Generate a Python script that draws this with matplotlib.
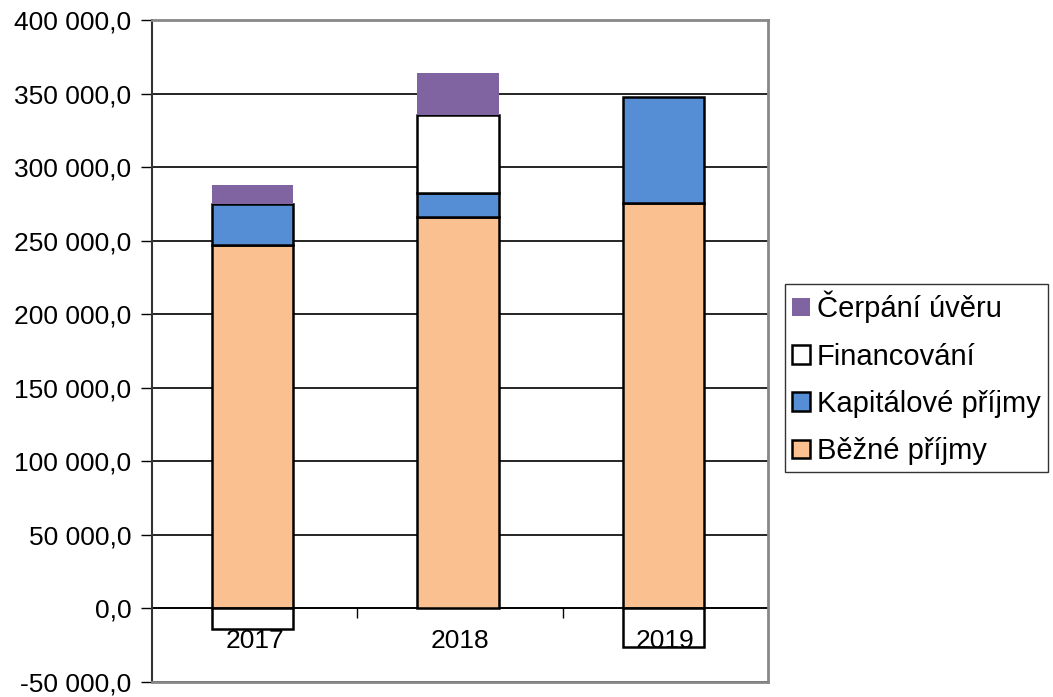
import matplotlib
matplotlib.use("Agg")
import matplotlib.pyplot as plt
import numpy as np
from matplotlib.ticker import FuncFormatter, FixedLocator

plt.rcParams['font.family'] = ['Liberation Sans', 'DejaVu Sans']

years = ['2017', '2018', '2019']
bezne = [247300, 266400, 275900]
kapitalove = [27300, 15700, 71500]
financovani = [-14300, 53100, -25900]
cerpani = [13000, 28600, 0]

series = [
    ('Běžné příjmy', bezne, '#FAC090', 'black'),
    ('Kapitálové příjmy', kapitalove, '#558ED5', 'black'),
    ('Financování', financovani, 'white', 'black'),
    ('Čerpání úvěru', cerpani, '#8064A2', 'none'),
]

fig = plt.figure(figsize=(10.53, 6.97), dpi=100)
ax = fig.add_axes([152/1053, 1-682/697, (768-152)/1053, (682-20)/697])

x = np.arange(len(years))
pos_bottom = np.zeros(len(years))
neg_bottom = np.zeros(len(years))
handles = []
for name, vals, color, ec in series:
    vals = np.array(vals, dtype=float)
    bottoms = np.where(vals >= 0, pos_bottom, neg_bottom)
    lw = 1.8 if ec != 'none' else 0
    b = ax.bar(x - 0.01, vals, 0.395, bottom=bottoms, color=color, edgecolor=ec,
               linewidth=lw, label=name, zorder=3)
    handles.append(b)
    pos_bottom = pos_bottom + np.where(vals >= 0, vals, 0)
    neg_bottom = neg_bottom + np.where(vals < 0, vals, 0)

ax.set_xlim(-0.5, 2.5)
ax.set_ylim(-50000, 400000)
ax.set_yticks(np.arange(-50000, 400001, 50000))
ax.yaxis.set_major_formatter(FuncFormatter(
    lambda v, p: f"{v:,.1f}".replace(",", " ").replace(".", ",")))
ax.tick_params(axis='y', direction='out', length=8, width=1, labelsize=19,
               pad=7, colors='black')
ax.set_xticks([])
ax.grid(axis='y', color='black', linewidth=1.2, zorder=0)
ax.set_axisbelow(True)

for side in ['top', 'right', 'bottom']:
    ax.spines[side].set_color('#888888')
    ax.spines[side].set_linewidth(2)
ax.spines['left'].set_color('#333333')
ax.spines['left'].set_linewidth(1.5)

# category axis along zero line
zero_frac = (0 - (-50000)) / 450000
sec = ax.secondary_xaxis(zero_frac)
sec.set_zorder(10)
sec.spines['bottom'].set_visible(False)
sec.xaxis.set_major_locator(FixedLocator([0, 1, 2]))
sec.set_xticklabels(years)
sec.xaxis.set_minor_locator(FixedLocator([0.5, 1.5]))
sec.tick_params(axis='x', which='major', length=0, labelsize=19, pad=15)
sec.tick_params(axis='x', which='minor', length=7, width=1, direction='out')
ax.axhline(0, color='black', linewidth=1.2, zorder=2)

leg = fig.legend(handles[::-1], [s[0] for s in series][::-1],
                 loc='center left', bbox_to_anchor=(785/1053, 1-378/697),
                 fontsize=21, frameon=True, fancybox=False,
                 edgecolor='black', handlelength=0.6, handleheight=0.6,
                 handletextpad=0.25, labelspacing=0.66, borderpad=0.25,
                 borderaxespad=0)
leg.get_frame().set_linewidth(1)

fig.savefig('out.png', dpi=100)
